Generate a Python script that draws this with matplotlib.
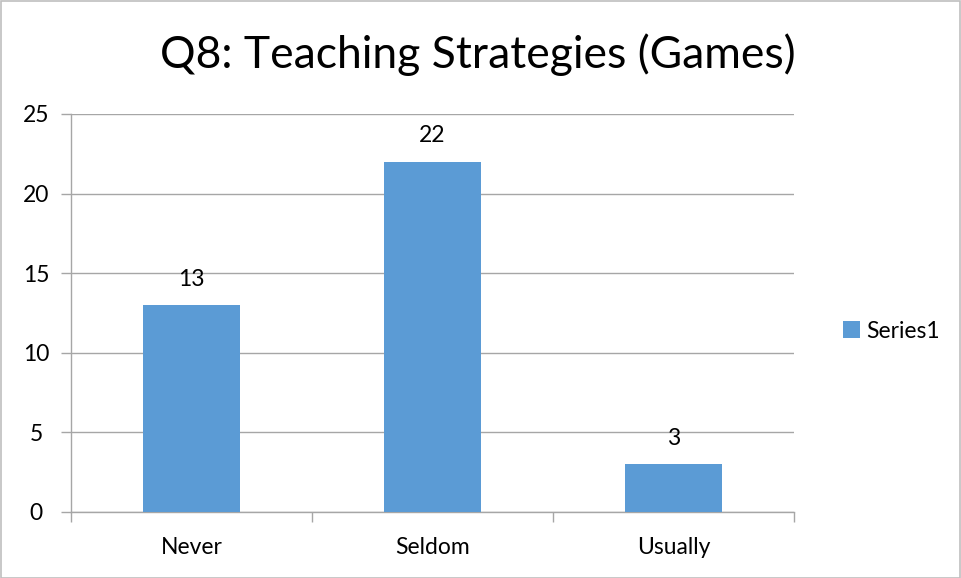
import matplotlib
matplotlib.use("Agg")
import matplotlib.pyplot as plt
from matplotlib.patches import Rectangle

categories = ["Never", "Seldom", "Usually"]
values = [13, 22, 3]
series_name = "Series1"
yticks = [0, 5, 10, 15, 20, 25]
title = "Q8: Teaching Strategies (Games)"

plt.rcParams['font.family'] = ['Lato', 'DejaVu Sans']
color = "#5B9BD5"
gray = "#A6A6A6"
fs = 16.5

fig = plt.figure(figsize=(9.61, 5.78), dpi=100)
ax = fig.add_axes([71/961, 1-512/578, (794-71)/961, (512-114)/578])

x = list(range(len(categories)))
bars = ax.bar(x, values, width=0.4, color=color, label=series_name, zorder=3)
for xi, v in zip(x, values):
    ax.annotate(str(v), (xi, v), xytext=(0, 11), textcoords="offset points",
                ha="center", va="bottom", fontsize=fs, color="#000000")

ax.set_xlim(-0.5, len(categories) - 0.5)
ax.set_ylim(0, 25)
ax.set_yticks(yticks)
ax.set_yticklabels([str(t) for t in yticks], fontsize=fs)
ax.yaxis.grid(True, color=gray, linewidth=1, zorder=0)
ax.set_axisbelow(True)

ax.set_xticks(x)
ax.set_xticklabels(categories, fontsize=fs)
ax.tick_params(axis="x", length=0, pad=18)
ax.set_xticks([i + 0.5 for i in range(-1, len(categories))], minor=True)
ax.tick_params(axis="x", which="minor", length=7, color=gray, width=1)
ax.tick_params(axis="y", length=7, color=gray, width=1, pad=18)
for lab in ax.get_yticklabels():
    lab.set_horizontalalignment("center")

for s in ["top", "right"]:
    ax.spines[s].set_visible(False)
for s in ["left", "bottom"]:
    ax.spines[s].set_color(gray)
    ax.spines[s].set_linewidth(1)

fig.text((163+793)/2/961, 1-55/578, title, ha="center", va="center", fontsize=32)

leg = fig.legend(handles=[bars], labels=[series_name], loc="center left",
                 bbox_to_anchor=(822/961, 1-331/578), frameon=False, fontsize=fs,
                 handlelength=0.75, handleheight=0.75, handletextpad=0.3)

fig.patches.append(Rectangle((0.5/961, 0.5/578), 1-1.5/961, 1-1.5/578, transform=fig.transFigure,
                             fill=False, edgecolor="#BFBFBF", linewidth=1.2))

fig.savefig("out.png", dpi=100)
